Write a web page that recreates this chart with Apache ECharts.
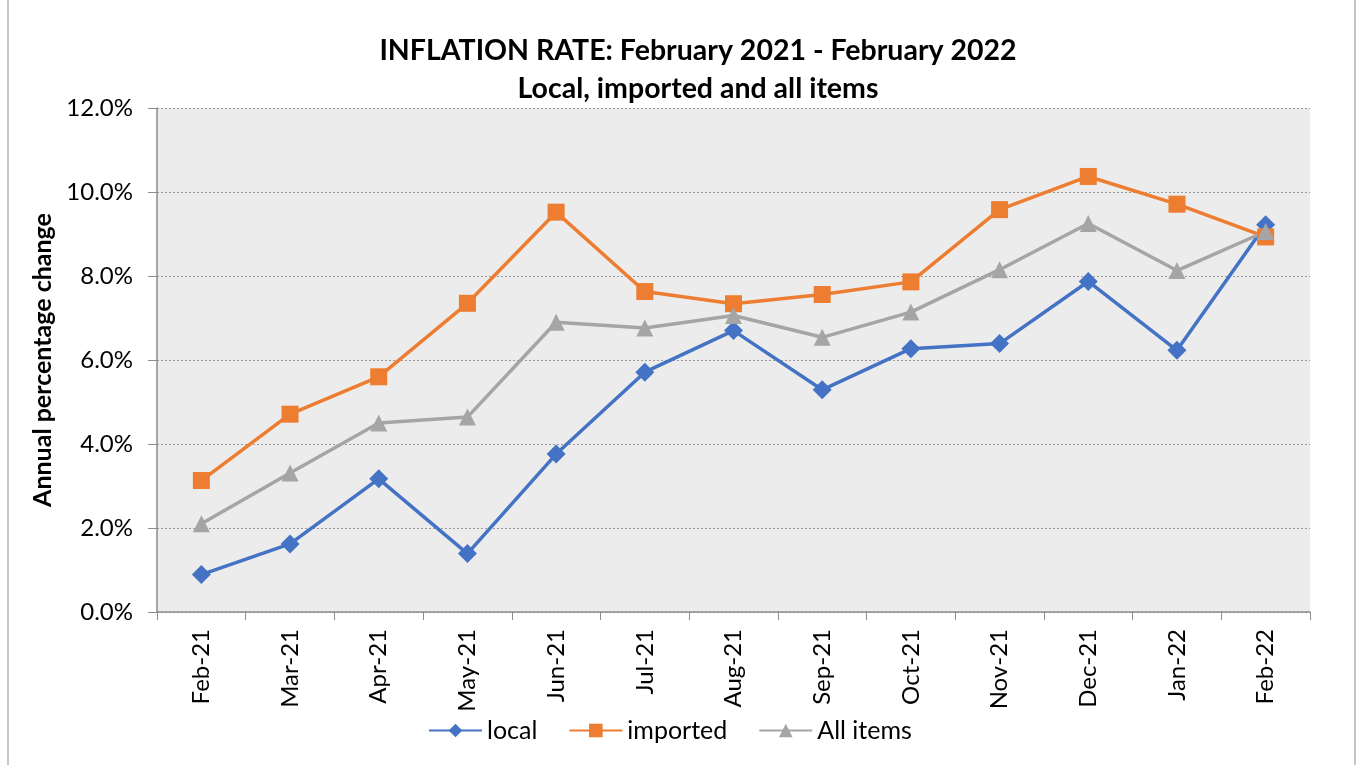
<!DOCTYPE html>
<html>
<head>
<meta charset="utf-8">
<script src="https://cdn.jsdelivr.net/npm/echarts@6/dist/echarts.min.js"></script>
<style>
  html, body { margin: 0; padding: 0; background: #fff; }
  #echart-root { width: 1358px; height: 765px; }
</style>
</head>
<body>
<div id="echart-root"></div>
<script>
// 月份
const months = ["Feb-21", "Mar-21", "Apr-21", "May-21", "Jun-21", "Jul-21", "Aug-21",
  "Sep-21", "Oct-21", "Nov-21", "Dec-21", "Jan-22", "Feb-22"];
// 年度变化 (%)
const localRate = [0.89, 1.62, 3.17, 1.39, 3.76, 5.71, 6.70, 5.29, 6.27, 6.39, 7.87, 6.23, 9.22];
const importedRate = [3.13, 4.71, 5.60, 7.35, 9.52, 7.63, 7.34, 7.56, 7.86, 9.58, 10.37, 9.71, 8.93];
const allItemsRate = [2.10, 3.31, 4.50, 4.64, 6.90, 6.76, 7.06, 6.54, 7.14, 8.15, 9.25, 8.13, 9.06];

const FONT = "Lato";

const myChart = echarts.init(document.getElementById("echart-root"));

const option = {
  backgroundColor: "#fff",
  animation: false,
  title: {
    text: "INFLATION RATE: February 2021 - February 2022\nLocal, imported and all items",
    left: 698, // 标题中心点
    textAlign: "center",
    top: 32,
    padding: 0,
    textStyle: {
      fontFamily: FONT,
      fontWeight: "bold",
      fontSize: 28.5,
      lineHeight: 38,
      color: "#000",
    },
  },
  legend: {
    top: 718,
    left: 428,
    padding: 0,
    itemWidth: 53,
    itemHeight: 17,
    itemGap: 31,
    textStyle: { fontFamily: FONT, fontSize: 25, color: "#000", padding: [0, 0, 0, 0] },
    data: ["local", "imported", "All items"],
  },
  grid: {
    left: 157,
    right: 48,
    top: 108,
    bottom: 153,
  },
  xAxis: {
    type: "category",
    data: months,
    boundaryGap: true,
    axisLine: { lineStyle: { color: "#8c8c8c", width: 1.5 } },
    axisTick: { show: true, length: 8, lineStyle: { color: "#8c8c8c" } },
    axisLabel: {
      rotate: 90,
      fontFamily: FONT,
      fontSize: 24,
      color: "#000",
      margin: 17,
    },
  },
  yAxis: {
    type: "value",
    min: 0,
    max: 12,
    interval: 2,
    name: "Annual percentage change",
    nameLocation: "middle",
    nameGap: 98,
    nameTextStyle: { fontFamily: FONT, fontSize: 25, fontWeight: "bold", color: "#000" },
    axisLine: { show: true, lineStyle: { color: "#8c8c8c", width: 1.5 } },
    axisTick: { show: true, length: 9, lineStyle: { color: "#8c8c8c" } },
    axisLabel: {
      fontFamily: FONT,
      fontSize: 24,
      color: "#000",
      margin: 24,
      formatter: (v) => v.toFixed(1) + "%",
    },
    splitLine: { lineStyle: { color: "#9a9a9a", type: [2, 2], width: 1 } },
    splitArea: { show: false },
  },
  graphic: [
    {
      type: "rect",
      shape: { x: 157, y: 108, width: 1153, height: 504 },
      style: { fill: "#ececec" },
      z: -1,
      silent: true,
    },
    {
      type: "rect",
      shape: { x: 8, y: -2, width: 1347, height: 770 },
      style: { fill: "none", stroke: "#b4b4b4", lineWidth: 1.5 },
      silent: true,
    },
  ],
  series: [
    {
      name: "local",
      type: "line",
      data: localRate,
      symbol: "diamond",
      symbolSize: 19,
      color: "#4472c4",
      lineStyle: { width: 3.5 },
    },
    {
      name: "imported",
      type: "line",
      data: importedRate,
      symbol: "rect",
      symbolSize: 17,
      color: "#ed7d31",
      lineStyle: { width: 3.5 },
    },
    {
      name: "All items",
      type: "line",
      data: allItemsRate,
      symbol: "triangle",
      symbolSize: 17,
      color: "#a5a5a5",
      lineStyle: { width: 3.5 },
    },
  ],
};

myChart.setOption(option);
</script>
</body>
</html>
